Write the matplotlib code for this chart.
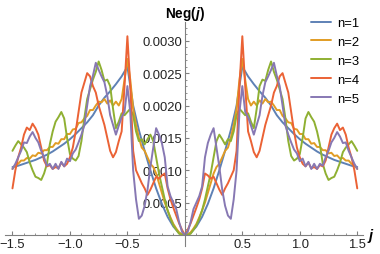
import numpy as np
import matplotlib
matplotlib.use('Agg')
import matplotlib.pyplot as plt

plt.rcParams['font.family'] = ['Liberation Sans', 'DejaVu Sans']
plt.rcParams['mathtext.fontset'] = 'custom'
plt.rcParams['mathtext.bfit'] = 'Liberation Sans:italic:bold'
plt.rcParams['mathtext.it'] = 'Liberation Sans:italic'

# Neg(j) is symmetric in j: values read for j >= 0, mirrored for j < 0 (units 1e-3)
j_smooth = np.round(np.arange(0, 1.5001, 0.05), 3)
j_fine = np.round(np.arange(0, 1.5001, 0.025), 3)

neg_n1 = [0, 0.03, 0.13, 0.28, 0.48, 0.72, 1.0, 1.3, 1.62, 2.0, 2.6,
          2.45, 2.33, 2.22, 2.12, 2.0, 1.85, 1.74, 1.65, 1.56, 1.48,
          1.41, 1.35, 1.29, 1.24, 1.2, 1.16, 1.13, 1.1, 1.07, 1.05]

neg_n2 = [0, 0.01, 0.04, 0.1, 0.17, 0.27, 0.38, 0.5, 0.65, 0.8, 0.95,
          1.05, 1.1, 1.2, 1.3, 1.35, 1.5, 1.7, 1.95, 2.4, 2.72,
          2.4, 2.1, 2.0, 2.06, 2.0, 2.08, 2.03, 2.1, 2.05, 2.06,
          2.0, 1.93, 1.93, 1.84, 1.8, 1.74, 1.73, 1.64, 1.63, 1.56,
          1.56, 1.48, 1.48, 1.41, 1.42, 1.36, 1.36, 1.31, 1.31, 1.26,
          1.27, 1.22, 1.23, 1.18, 1.19, 1.15, 1.15, 1.1, 1.08, 1.02]

neg_n3 = [0, 0, 0.02, 0.08, 0.15, 0.25, 0.38, 0.55, 0.75, 0.95, 1.2,
          1.45, 1.55, 1.48, 1.4, 1.48, 1.45, 1.6, 1.85, 1.95, 1.9,
          1.85, 1.88, 1.75, 1.65, 1.95, 2.3, 2.4, 2.38, 2.55, 2.68,
          2.52, 2.4, 2.25, 2.1, 1.8, 1.45, 1.22, 1.15, 1.18, 1.25,
          1.5, 1.8, 1.9, 1.82, 1.75, 1.6, 1.4, 1.1, 0.95, 0.85,
          0.88, 0.9, 1.0, 1.12, 1.28, 1.35, 1.4, 1.45, 1.38, 1.3]

neg_n4 = [0, 0.08, 0.18, 0.3, 0.42, 0.55, 0.72, 0.95, 0.92, 0.87, 0.9,
          0.8, 0.7, 0.62, 0.72, 0.8, 0.9, 1.0, 1.3, 2.3, 3.07,
          2.3, 1.6, 1.45, 1.28, 1.2, 1.3, 1.5, 1.7, 1.85, 2.0,
          2.2, 2.3, 2.45, 2.5, 2.35, 2.2, 1.9, 1.6, 1.35, 1.2,
          1.1, 1.06, 1.12, 1.03, 1.05, 1.02, 1.08, 1.06, 1.15, 1.35,
          1.55, 1.65, 1.72, 1.62, 1.66, 1.55, 1.35, 1.2, 1.0, 0.72]

neg_n5 = [0, 0.05, 0.2, 0.4, 0.5, 0.6, 0.75, 1.2, 1.42, 1.55, 1.65,
          1.35, 1.05, 0.7, 0.45, 0.3, 0.25, 0.55, 1.0, 1.9, 2.3,
          1.9, 1.82, 1.69, 1.55, 1.7, 1.85, 2.15, 2.36, 2.45, 2.55,
          2.66, 2.46, 2.3, 2.0, 1.69, 1.55, 1.43, 1.32, 1.26, 1.14,
          1.18, 1.06, 1.13, 1.02, 1.1, 1.02, 1.1, 1.07, 1.2, 1.3,
          1.43, 1.5, 1.59, 1.52, 1.42, 1.43, 1.3, 1.2, 1.1, 1.02]

labels = ['n=1', 'n=2', 'n=3', 'n=4', 'n=5']
colors = ['#5e81b5', '#e19c24', '#8fb032', '#eb6235', '#8778b3']


def mirror(j, v):
    j = np.asarray(j)
    v = np.asarray(v) * 1e-3
    return np.concatenate([-j[::-1], j[1:]]), np.concatenate([v[::-1], v[1:]])


fig = plt.figure(figsize=(3.8, 2.55), dpi=100)
ax = fig.add_axes([5 / 380, 1 - 247 / 255, 358 / 380, 224 / 255])

series = [(j_smooth, neg_n1), (j_fine, neg_n2), (j_fine, neg_n3),
          (j_fine, neg_n4), (j_fine, neg_n5)]
for (jj, vv), lab, c in zip(series, labels, colors):
    x, y = mirror(jj, vv)
    ax.plot(x, y, color=c, lw=1.4, label=lab,
            solid_joinstyle='round', solid_capstyle='round')

ax.set_xlim(-1.565, 1.55)
ax.set_ylim(-0.00017, 0.00329)

ax.spines['top'].set_visible(False)
ax.spines['right'].set_visible(False)
ax.spines['left'].set_position(('data', 0))
ax.spines['bottom'].set_position(('data', 0))
for s in ['left', 'bottom']:
    ax.spines[s].set_color('#808080')
    ax.spines[s].set_linewidth(0.8)

ax.set_xticks([-1.5, -1.0, -0.5, 0.5, 1.0, 1.5])
ax.set_xticklabels(['\u22121.5', '\u22121.0', '\u22120.5', '0.5', '1.0', '1.5'])
ax.set_xticks(np.arange(-1.5, 1.51, 0.1), minor=True)
ax.set_yticks([0.0005, 0.0010, 0.0015, 0.0020, 0.0025, 0.0030])
ax.set_yticklabels(['0.0005', '0.0010', '0.0015', '0.0020', '0.0025', '0.0030'])
ax.set_yticks(np.arange(0.0001, 0.00321, 0.0001), minor=True)
ax.tick_params(which='both', direction='in', color='#808080', labelsize=9.4,
               labelcolor='#222222')
ax.tick_params(which='major', length=3, width=0.8)
ax.tick_params(which='minor', length=1.6, width=0.6)
ax.tick_params(axis='x', pad=2)
ax.tick_params(axis='y', pad=2)

ax.text(0, 0.00329, r'Neg($\mathbfit{j}$)', ha='center', va='bottom',
        fontsize=9.8, fontweight='bold')
ax.text(1.585, 0, r'$\mathbfit{j}$', ha='left', va='center', fontsize=10.5)

ax.legend(loc='upper left', bbox_to_anchor=(311 / 380, 1 - 18 / 255),
          bbox_transform=fig.transFigure, frameon=False, fontsize=9.4,
          handlelength=1.55, handletextpad=0.45, labelspacing=0.52,
          borderpad=0, borderaxespad=0)

plt.savefig('out.png', dpi=100)
